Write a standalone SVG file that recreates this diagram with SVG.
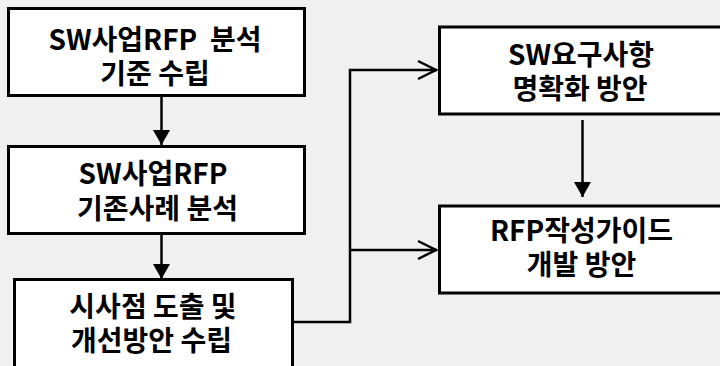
<svg xmlns="http://www.w3.org/2000/svg" width="720" height="366" viewBox="0 0 720 366">
  <style>
    .box { fill: #ffffff; stroke: #000000; stroke-width: 3; }
    .lbl { font-family: "Noto Sans CJK KR", "Noto Sans", sans-serif; font-weight: bold; font-size: 28px; fill: #000000; text-anchor: middle; }
    .ln { fill: none; stroke: #000000; stroke-width: 2.5; }
  </style>
  <defs>
    <marker id="tri" markerUnits="userSpaceOnUse" markerWidth="20" markerHeight="20" viewBox="0 0 20 20" refX="16" refY="10" orient="auto">
      <path d="M1,1.5 L16,10 L1,18.5 Z" fill="#000000"/>
    </marker>
    <marker id="vee" markerUnits="userSpaceOnUse" markerWidth="24" markerHeight="24" viewBox="0 0 24 24" refX="21" refY="12" orient="auto">
      <path d="M2,3 L20,12 L2,21" fill="none" stroke="#000000" stroke-width="2.5"/>
    </marker>
  </defs>
  <rect width="720" height="366" fill="#f0f0f0"/>

  <g id="connectors">
    <line class="ln" x1="161.5" y1="97" x2="161.5" y2="145" marker-end="url(#tri)"/>
    <line class="ln" x1="161.5" y1="235" x2="161.5" y2="279" marker-end="url(#tri)"/>
    <line class="ln" x1="582.5" y1="120" x2="582.5" y2="197" marker-end="url(#tri)"/>
    <polyline class="ln" points="293,322 350,322 350,70 437,70" marker-end="url(#vee)"/>
    <line class="ln" x1="350" y1="250" x2="437" y2="250" marker-end="url(#vee)"/>
  </g>

  <g id="node1">
    <rect class="box" x="8.5" y="8.5" width="296" height="87"/>
    <text class="lbl" x="155" y="50" xml:space="preserve">SW사업RFP  분석</text>
    <text class="lbl" x="155" y="84">기준 수립</text>
  </g>
  <g id="node2">
    <rect class="box" x="8.5" y="146.5" width="296" height="87"/>
    <text class="lbl" x="153" y="184">SW사업RFP</text>
    <text class="lbl" x="157.5" y="219">기존사례 분석</text>
  </g>
  <g id="node3">
    <rect class="box" x="14.5" y="279.5" width="278" height="100"/>
    <text class="lbl" x="153" y="317">시사점 도출 및</text>
    <text class="lbl" x="151.5" y="351">개선방안 수립</text>
  </g>
  <g id="node4">
    <rect class="box" x="439.5" y="27" width="290" height="87"/>
    <text class="lbl" x="581" y="65">SW요구사항</text>
    <text class="lbl" x="580" y="99">명확화 방안</text>
  </g>
  <g id="node5">
    <rect class="box" x="439.5" y="206" width="290" height="87"/>
    <text class="lbl" x="581.5" y="241">RFP작성가이드</text>
    <text class="lbl" x="581.5" y="275">개발 방안</text>
  </g>
</svg>
